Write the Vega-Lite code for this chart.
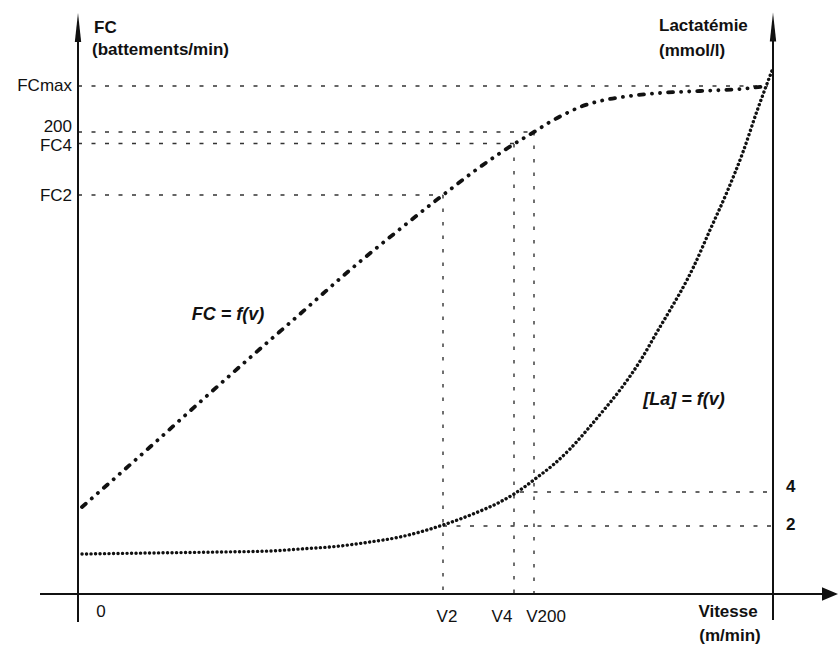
{
  "$schema": "https://vega.github.io/schema/vega-lite/v6.json",
  "width": 838,
  "height": 646,
  "autosize": {"type": "fit", "contains": "padding"},
  "padding": 0,
  "background": "white",
  "config": {"view": {"stroke": null}},
  "datasets": {
    "fc": [
      {"x": 82, "y": 507}, {"x": 150, "y": 447}, {"x": 200, "y": 402}, {"x": 253, "y": 355},
      {"x": 300, "y": 314}, {"x": 350, "y": 270}, {"x": 400, "y": 229}, {"x": 443, "y": 195},
      {"x": 480, "y": 167}, {"x": 514, "y": 144}, {"x": 534, "y": 132}, {"x": 550, "y": 122},
      {"x": 565, "y": 114}, {"x": 580, "y": 107}, {"x": 600, "y": 101}, {"x": 630, "y": 96},
      {"x": 660, "y": 93}, {"x": 700, "y": 91}, {"x": 740, "y": 89}, {"x": 768, "y": 86}
    ],
    "la": [
      {"x": 82, "y": 554}, {"x": 150, "y": 553}, {"x": 220, "y": 552}, {"x": 270, "y": 551},
      {"x": 300, "y": 549}, {"x": 340, "y": 546}, {"x": 370, "y": 542}, {"x": 400, "y": 537},
      {"x": 420, "y": 532}, {"x": 443, "y": 525}, {"x": 473, "y": 514}, {"x": 500, "y": 502},
      {"x": 514, "y": 494}, {"x": 523, "y": 488}, {"x": 535, "y": 479}, {"x": 553, "y": 465},
      {"x": 570, "y": 449}, {"x": 587, "y": 430}, {"x": 603, "y": 411}, {"x": 620, "y": 390},
      {"x": 642, "y": 358}, {"x": 657, "y": 332}, {"x": 673, "y": 305}, {"x": 687, "y": 280},
      {"x": 693, "y": 268}, {"x": 710, "y": 230}, {"x": 727, "y": 192}, {"x": 743, "y": 152},
      {"x": 757, "y": 111}, {"x": 773, "y": 68}
    ],
    "axes": [
      {"x": 78, "y": 40, "x2": 78, "y2": 622},
      {"x": 773, "y": 38, "x2": 773, "y2": 620},
      {"x": 40, "y": 594, "x2": 824, "y2": 594}
    ],
    "flechesHaut": [
      {"x": 78, "y": 27.5},
      {"x": 773, "y": 27}
    ],
    "flecheDroite": [
      {"x": 830, "y": 594}
    ],
    "repH": [
      {"x": 78, "y": 86, "x2": 768, "y2": 86},
      {"x": 78, "y": 132, "x2": 534, "y2": 132},
      {"x": 78, "y": 143.5, "x2": 514, "y2": 143.5},
      {"x": 78, "y": 195, "x2": 443, "y2": 195},
      {"x": 520, "y": 492, "x2": 773, "y2": 492},
      {"x": 443, "y": 526, "x2": 773, "y2": 526}
    ],
    "repV": [
      {"x": 443, "y": 195, "x2": 443, "y2": 594},
      {"x": 514, "y": 144, "x2": 514, "y2": 594},
      {"x": 534, "y": 132, "x2": 534, "y2": 594}
    ],
    "labels": [
      {"role": "gauche", "label": "FCmax", "x": 72, "y": 86},
      {"role": "gauche", "label": "200", "x": 72, "y": 127},
      {"role": "gauche", "label": "FC4", "x": 72, "y": 146},
      {"role": "gauche", "label": "FC2", "x": 72, "y": 196},
      {"role": "droite", "label": "4", "x": 786, "y": 487},
      {"role": "droite", "label": "2", "x": 786, "y": 525},
      {"role": "bas", "label": "0", "x": 101, "y": 612},
      {"role": "bas", "label": "V2", "x": 447, "y": 617},
      {"role": "bas", "label": "V4", "x": 502, "y": 617},
      {"role": "bas", "label": "V200", "x": 546, "y": 617},
      {"role": "titre", "label": "FC", "x": 94, "y": 28},
      {"role": "titre", "label": "(battements/min)", "x": 92, "y": 50},
      {"role": "titre", "label": "Lactatémie", "x": 659, "y": 26},
      {"role": "titre", "label": "(mmol/l)", "x": 659, "y": 51},
      {"role": "titreX", "label": "Vitesse", "x": 728, "y": 612},
      {"role": "titreX", "label": "(m/min)", "x": 730, "y": 636},
      {"role": "courbe", "label": "FC = f(v)", "x": 228, "y": 315},
      {"role": "courbe", "label": "[La] = f(v)", "x": 684, "y": 400}
    ]
  },
  "encoding": {
    "x": {"field": "x", "type": "quantitative", "scale": {"domain": [0, 838], "nice": false, "zero": false}, "axis": null},
    "y": {"field": "y", "type": "quantitative", "scale": {"domain": [0, 646], "nice": false, "zero": false, "reverse": true}, "axis": null}
  },
  "layer": [
    {
      "data": {"name": "repH"},
      "mark": {"type": "rule", "color": "#333", "strokeWidth": 1.4, "strokeDash": [4, 9.5]},
      "encoding": {"x2": {"field": "x2"}, "y2": {"field": "y2"}}
    },
    {
      "data": {"name": "repV"},
      "mark": {"type": "rule", "color": "#333", "strokeWidth": 1.4, "strokeDash": [3.5, 10]},
      "encoding": {"x2": {"field": "x2"}, "y2": {"field": "y2"}}
    },
    {
      "data": {"name": "axes"},
      "mark": {"type": "rule", "color": "#111", "strokeWidth": 2},
      "encoding": {"x2": {"field": "x2"}, "y2": {"field": "y2"}}
    },
    {
      "data": {"name": "flechesHaut"},
      "mark": {"type": "point", "shape": "M0,-1L0.22,1L-0.22,1Z", "size": 841, "filled": true, "color": "#111", "opacity": 1}
    },
    {
      "data": {"name": "flecheDroite"},
      "mark": {"type": "point", "shape": "M1,0L-1,-0.85L-1,0.85Z", "size": 256, "filled": true, "color": "#111", "opacity": 1}
    },
    {
      "data": {"name": "fc"},
      "mark": {"type": "line", "interpolate": "monotone", "color": "#111", "strokeWidth": 3.8, "strokeCap": "round", "strokeDash": [5, 8, 0.1, 8, 0.1, 8]}
    },
    {
      "data": {"name": "la"},
      "mark": {"type": "line", "interpolate": "monotone", "color": "#111", "strokeWidth": 3.4, "strokeCap": "round", "strokeDash": [0.1, 4.4]}
    },
    {
      "data": {"name": "labels"},
      "transform": [{"filter": "datum.role === 'gauche'"}],
      "mark": {"type": "text", "font": "Liberation Sans", "fontSize": 17, "align": "right", "baseline": "middle", "color": "#111"},
      "encoding": {"text": {"field": "label"}}
    },
    {
      "data": {"name": "labels"},
      "transform": [{"filter": "datum.role === 'droite'"}],
      "mark": {"type": "text", "font": "Liberation Sans", "fontSize": 17, "fontWeight": "bold", "align": "left", "baseline": "middle", "color": "#111"},
      "encoding": {"text": {"field": "label"}}
    },
    {
      "data": {"name": "labels"},
      "transform": [{"filter": "datum.role === 'bas'"}],
      "mark": {"type": "text", "font": "Liberation Sans", "fontSize": 17, "align": "center", "baseline": "middle", "color": "#111"},
      "encoding": {"text": {"field": "label"}}
    },
    {
      "data": {"name": "labels"},
      "transform": [{"filter": "datum.role === 'titre'"}],
      "mark": {"type": "text", "font": "Liberation Sans", "fontSize": 17, "fontWeight": "bold", "align": "left", "baseline": "middle", "color": "#111"},
      "encoding": {"text": {"field": "label"}}
    },
    {
      "data": {"name": "labels"},
      "transform": [{"filter": "datum.role === 'titreX'"}],
      "mark": {"type": "text", "font": "Liberation Sans", "fontSize": 17, "fontWeight": "bold", "align": "center", "baseline": "middle", "color": "#111"},
      "encoding": {"text": {"field": "label"}}
    },
    {
      "data": {"name": "labels"},
      "transform": [{"filter": "datum.role === 'courbe'"}],
      "mark": {"type": "text", "font": "Liberation Sans", "fontSize": 18, "fontWeight": "bold", "fontStyle": "italic", "align": "center", "baseline": "middle", "color": "#111"},
      "encoding": {"text": {"field": "label"}}
    }
  ]
}
